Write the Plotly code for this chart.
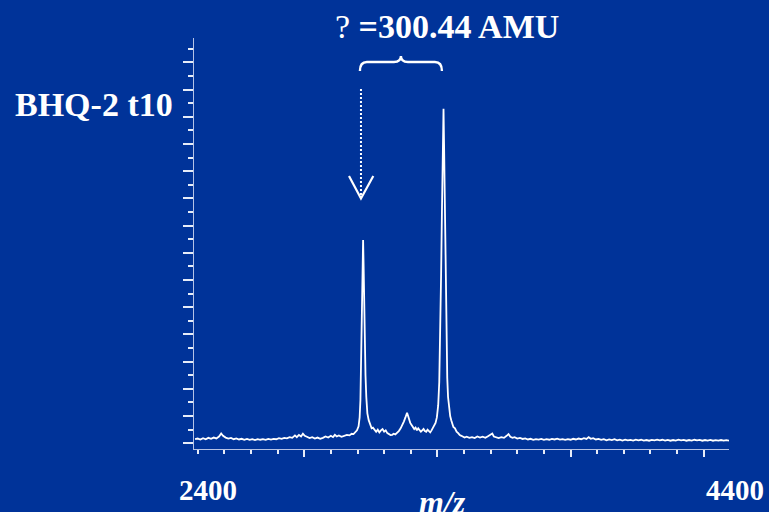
import plotly.graph_objects as go

# ---------------- data ----------------
mz_values = [
    2390, 2400, 2410, 2420, 2430, 2440, 2450, 2460, 2470, 2480,
    2488, 2495, 2505, 2515, 2525, 2535, 2545, 2555, 2565, 2575,
    2585, 2595, 2605, 2615, 2625, 2635, 2645, 2655, 2665, 2675,
    2685, 2695, 2705, 2715, 2725, 2735, 2745, 2755, 2765, 2772,
    2780, 2788, 2795, 2802, 2810, 2820, 2830, 2840, 2850, 2860,
    2870, 2880, 2890, 2900, 2908, 2915, 2922, 2930, 2940, 2950,
    2960, 2970, 2978, 2985, 2992, 2998, 3004, 3008, 3011, 3014,
    3017, 3019, 3021, 3023, 3025, 3027, 3030, 3033, 3037, 3042,
    3048, 3053, 3058, 3064, 3070, 3076, 3082, 3088, 3094, 3100,
    3106, 3112, 3118, 3124, 3130, 3136, 3142, 3148, 3155, 3162,
    3168, 3174, 3180, 3186, 3190, 3194, 3198, 3203, 3208, 3213,
    3218, 3223, 3228, 3233, 3238, 3243, 3248, 3253, 3258, 3263,
    3268, 3273, 3278, 3283, 3288, 3293, 3298, 3303, 3307, 3311,
    3314, 3317, 3319, 3321, 3323, 3325, 3328, 3331, 3334, 3337,
    3340, 3344, 3348, 3352, 3356, 3360, 3366, 3372, 3378, 3384,
    3390, 3396, 3402, 3410, 3420, 3430, 3440, 3450, 3460, 3470,
    3480, 3490, 3500, 3506, 3512, 3520, 3530, 3540, 3550, 3560,
    3567, 3574, 3582, 3590, 3600, 3610, 3620, 3630, 3640, 3650,
    3660, 3670, 3680, 3690, 3700, 3710, 3720, 3730, 3740, 3750,
    3760, 3770, 3780, 3790, 3800, 3810, 3820, 3830, 3840, 3850,
    3860, 3868, 3876, 3885, 3895, 3905, 3915, 3925, 3935, 3945,
    3955, 3965, 3975, 3985, 3995, 4005, 4015, 4025, 4035, 4045,
    4055, 4065, 4075, 4085, 4095, 4105, 4115, 4125, 4135, 4145,
    4155, 4165, 4175, 4185, 4195, 4205, 4215, 4225, 4235, 4245,
    4255, 4265, 4275, 4285, 4295, 4305, 4315, 4325, 4335, 4345,
    4355, 4365, 4375, 4385, 4395,
]
intensity_values = [
    0.30, 0.35, 0.28, 0.38, 0.30, 0.40, 0.33, 0.42, 0.36, 0.50,
    0.72, 0.55, 0.42, 0.35, 0.40, 0.30, 0.36, 0.28, 0.33, 0.26,
    0.32, 0.25, 0.30, 0.24, 0.31, 0.26, 0.30, 0.25, 0.32, 0.27,
    0.33, 0.30, 0.38, 0.33, 0.40, 0.36, 0.45, 0.40, 0.58, 0.45,
    0.62, 0.50, 0.70, 0.55, 0.48, 0.38, 0.45, 0.35, 0.42, 0.33,
    0.40, 0.50, 0.42, 0.55, 0.45, 0.62, 0.50, 0.58, 0.48, 0.58,
    0.62, 0.58, 0.70, 0.68, 0.80, 0.95, 1.25, 1.90, 3.20, 6.20,
    10.0, 13.2, 14.95, 13.0, 10.0, 7.5, 5.0, 3.4, 2.2, 1.7,
    1.30, 1.10, 1.15, 0.95, 0.85, 1.00, 0.80, 0.95, 1.05, 0.85,
    0.95, 0.75, 0.65, 0.60, 0.62, 0.70, 0.65, 0.75, 0.90, 1.10,
    1.30, 1.60, 1.90, 2.25, 2.00, 1.70, 1.50, 1.35, 1.20, 1.05,
    1.15, 0.95, 1.10, 1.00, 0.85, 0.95, 1.05, 0.90, 0.85, 1.00,
    0.90, 0.80, 0.95, 1.10, 1.25, 1.50, 1.90, 2.80, 4.50, 8.00,
    12.5, 17.0, 20.5, 23.5, 24.6, 22.0, 16.5, 12.0, 7.5, 4.8,
    3.40, 2.50, 2.00, 1.70, 1.45, 1.20, 1.10, 0.85, 0.75, 0.60,
    0.55, 0.50, 0.42, 0.48, 0.40, 0.45, 0.38, 0.50, 0.42, 0.48,
    0.40, 0.52, 0.62, 0.72, 0.50, 0.42, 0.38, 0.45, 0.40, 0.55,
    0.68, 0.48, 0.40, 0.45, 0.35, 0.40, 0.32, 0.36, 0.28, 0.33,
    0.26, 0.31, 0.27, 0.32, 0.25, 0.30, 0.26, 0.32, 0.28, 0.34,
    0.27, 0.31, 0.25, 0.30, 0.26, 0.33, 0.28, 0.35, 0.30, 0.38,
    0.32, 0.45, 0.33, 0.38, 0.28, 0.32, 0.25, 0.30, 0.22, 0.28,
    0.24, 0.30, 0.22, 0.27, 0.20, 0.26, 0.21, 0.25, 0.20, 0.27,
    0.22, 0.26, 0.20, 0.24, 0.19, 0.25, 0.21, 0.27, 0.22, 0.26,
    0.20, 0.25, 0.19, 0.24, 0.20, 0.26, 0.21, 0.25, 0.19, 0.24,
    0.20, 0.26, 0.22, 0.25, 0.19, 0.24, 0.20, 0.25, 0.19, 0.23,
    0.20, 0.24, 0.19, 0.23, 0.20,
]
assert len(mz_values) == len(intensity_values)

x_label_values = [2400, 4400]
x_label_texts = ["2400", "4400"]
x_major_ticks = [2800, 3300, 3800, 4300]
y_major_ticks = [0, 2, 4, 6, 8, 10, 12, 14, 16, 18, 20, 22, 24, 26, 28]

sample_name = "BHQ-2 t10"
mass_diff_text = "? <b>=300.44 AMU</b>"
x_title = "<b><i>m/z</i></b>"

# ---------------- layout constants ----------------
W, H = 769, 512
L, R, T, B = 194, 40, 38, 63
X_RANGE = [2386, 4395]
Y_RANGE = [-0.42, 29.8]
BG = "#003399"
FONT = "Liberation Serif"

pw = W - L - R
ph = H - T - B


def px2x(px):
    return X_RANGE[0] + (px - L) / pw * (X_RANGE[1] - X_RANGE[0])


def py2y(py):
    return Y_RANGE[0] + (H - B - py) / ph * (Y_RANGE[1] - Y_RANGE[0])


def ppx(px):
    return (px - L) / pw


def ppy(py):
    return (H - B - py) / ph


fig = go.Figure()
fig.add_trace(go.Scatter(
    x=mz_values, y=intensity_values, mode="lines",
    line=dict(color="white", width=1.8), hoverinfo="skip", showlegend=False,
))

# peak positions from data
i1 = max(range(len(mz_values)), key=lambda i: intensity_values[i] if mz_values[i] < 3100 else -1)
i2 = max(range(len(mz_values)), key=lambda i: intensity_values[i])
peak1 = mz_values[i1]
peak2 = mz_values[i2]

# dotted arrow pointing at first peak
ax = peak1 - 8
fig.add_shape(type="line", xref="x", yref="y", x0=ax, x1=ax, y0=py2y(89), y1=py2y(197),
              line=dict(color="white", width=2, dash="2px,2px"))
fig.add_shape(type="path", xref="x", yref="y",
              path=f"M {px2x(349)},{py2y(176)} L {ax},{py2y(198.5)} L {px2x(373.3)},{py2y(176)}",
              line=dict(color="white", width=2.2))

# curly brace between the two peaks
bl = peak1 - 12
br = peak2 - 6
dx = (px2x(367) - px2x(360))
bm = (bl + br) / 2
yb = py2y(71)
yh = py2y(62)
yc = py2y(56)
brace = (f"M {bl},{yb} Q {bl},{yh} {bl+dx},{yh} L {bm-dx},{yh} Q {bm},{yh} {bm},{yc} "
         f"Q {bm},{yh} {bm+dx},{yh} L {br-dx},{yh} Q {br},{yh} {br},{yb}")
fig.add_shape(type="path", xref="x", yref="y", path=brace,
              line=dict(color="white", width=2.4))

annos = [
    dict(text=f"<b>{sample_name}</b>", x=ppx(94), y=ppy(104), size=34),
    dict(text=mass_diff_text, x=ppx(447), y=ppy(26), size=34),
    dict(text=x_title, x=ppx(442), y=ppy(502), size=32),
]
label_px = [207.5, 735.3]
for v, t, p in zip(x_label_values, x_label_texts, label_px):
    annos.append(dict(text=f"<b>{t}</b>", x=ppx(p), y=ppy(490), size=29))

for a in annos:
    fig.add_annotation(text=a["text"], x=a["x"], y=a["y"], xref="paper", yref="paper",
                       xanchor="center", yanchor="middle", showarrow=False,
                       font=dict(family=FONT, size=a["size"], color="white"))

axis_col = "#b4c2e6"
tick_col = "#e6ecf8"
fig.update_layout(
    width=W, height=H,
    margin=dict(l=L, r=R, t=T, b=B, pad=0),
    paper_bgcolor=BG, plot_bgcolor=BG,
    showlegend=False,
    xaxis=dict(range=X_RANGE, showgrid=False, zeroline=False, showline=True,
               linecolor=axis_col, linewidth=1.2, mirror=False,
               tickmode="array", tickvals=x_major_ticks, ticks="outside",
               ticklen=7, tickwidth=1.5, tickcolor=tick_col, showticklabels=False,
               minor=dict(dtick=100, tick0=2400, ticks="outside", ticklen=4,
                          tickwidth=1.5, tickcolor=tick_col, showgrid=False)),
    yaxis=dict(range=Y_RANGE, showgrid=False, zeroline=False, showline=True,
               linecolor=axis_col, linewidth=1.2,
               tickmode="array", tickvals=y_major_ticks, ticks="outside",
               ticklen=10, tickwidth=1.5, tickcolor=tick_col, showticklabels=False,
               minor=dict(dtick=1, tick0=0, ticks="outside", ticklen=5,
                          tickwidth=1.5, tickcolor=tick_col, showgrid=False)),
)

fig.write_html(
    "out.html",
    config={"displayModeBar": False},
    post_script="document.body.style.margin='0px';document.body.style.background='#003399';",
)
